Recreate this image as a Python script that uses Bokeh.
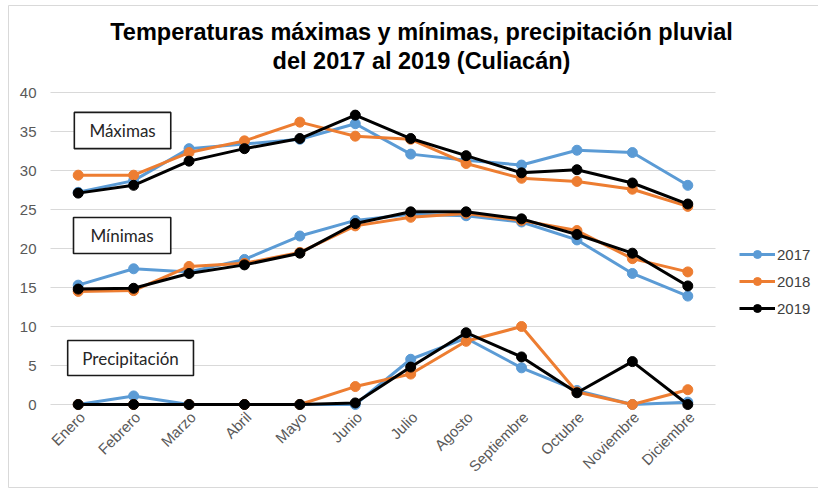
from bokeh.plotting import figure
from bokeh.models import Range1d, Label, BoxAnnotation, Legend, LegendItem
from bokeh.core.properties import value
from bokeh.embed import file_html
from bokeh.resources import INLINE
import math

meses = ["Enero", "Febrero", "Marzo", "Abril", "Mayo", "Junio", "Julio", "Agosto",
         "Septiembre", "Octubre", "Noviembre", "Diciembre"]
y_ticks = [0, 5, 10, 15, 20, 25, 30, 35, 40]
y_tick_labels = ["0", "5", "10", "15", "20", "25", "30", "35", "40"]
years = ["2017", "2018", "2019"]
colors = {"2017": "#5b9bd5", "2018": "#ed7d31", "2019": "#000000"}

max_2017 = [27.2, 28.7, 32.8, 33.4, 34.0, 36.0, 32.1, 31.3, 30.7, 32.6, 32.3, 28.1]
max_2018 = [29.4, 29.4, 32.3, 33.8, 36.2, 34.4, 34.0, 30.9, 29.0, 28.6, 27.6, 25.4]
max_2019 = [27.1, 28.1, 31.2, 32.8, 34.1, 37.1, 34.1, 31.9, 29.7, 30.1, 28.4, 25.7]

min_2017 = [15.3, 17.4, 17.0, 18.6, 21.6, 23.6, 24.4, 24.2, 23.4, 21.1, 16.8, 13.9]
min_2018 = [14.5, 14.6, 17.7, 18.1, 19.5, 22.9, 24.0, 24.5, 23.6, 22.3, 18.7, 17.0]
min_2019 = [14.8, 14.9, 16.8, 17.9, 19.4, 23.2, 24.7, 24.7, 23.8, 21.8, 19.4, 15.2]

pre_2017 = [0.0, 1.1, 0.0, 0.0, 0.0, 0.0, 5.8, 8.5, 4.7, 1.8, 0.0, 0.3]
pre_2018 = [0.0, 0.0, 0.0, 0.0, 0.0, 2.3, 3.9, 8.1, 10.0, 1.6, 0.0, 1.9]
pre_2019 = [0.0, 0.0, 0.0, 0.0, 0.0, 0.2, 4.8, 9.2, 6.1, 1.5, 5.5, 0.0]

series = {
    "2017": [max_2017, min_2017, pre_2017],
    "2018": [max_2018, min_2018, pre_2018],
    "2019": [max_2019, min_2019, pre_2019],
}

W, H = 818, 488
# plot area in pixels: x 50..715, y 92 (=40) .. 404 (=0)
px_x = 665 / len(meses)
px_y = 312 / 40
x_idx = list(range(len(meses)))
x0, x1 = -0.5, len(meses) - 0.5

p = figure(width=W, height=H,
           x_range=Range1d(x0 - 50 / px_x, x0 + (W - 50) / px_x),
           y_range=Range1d(-(H - 404) / px_y, 40 + 92 / px_y),
           output_backend="svg", toolbar_location=None,
           min_border=0)
p.xaxis.visible = False
p.yaxis.visible = False
p.xgrid.visible = False
p.ygrid.visible = False
p.outline_line_color = None
p.background_fill_color = "white"
p.border_fill_color = "white"

# outer light frame
p.add_layout(BoxAnnotation(left=x0 - 42 / px_x, right=x1 + 200 / px_x,
                           top=40 + 87 / px_y, bottom=-83 / px_y,
                           fill_alpha=0, line_color="#d9d9d9", line_alpha=1, line_width=1))

# gridlines
p.segment(x0=[x0] * len(y_ticks), x1=[x1] * len(y_ticks), y0=y_ticks, y1=y_ticks,
          line_color="#d9d9d9", line_width=1)

# y tick labels
p.text(x=[x0] * len(y_ticks), y=y_ticks, text=y_tick_labels, x_offset=-14,
       text_align="right", text_baseline="middle", text_font=value("Liberation Sans"),
       text_font_size=value("15px"), text_color="#595959")
# x tick labels
p.text(x=x_idx, y=[0] * len(meses), text=meses, x_offset=4, y_offset=10, angle=math.pi / 4,
       text_align="right", text_baseline="middle", text_font=value("Liberation Sans"),
       text_font_size=value("15px"), text_color="#595959")

renderers = {}
for yr in years:
    rs = []
    for vals in series[yr]:
        l = p.line(x_idx, vals, line_color=colors[yr], line_width=3)
        s = p.scatter(x_idx, vals, size=10, fill_color=colors[yr], line_color=colors[yr])
        rs += [l, s]
    renderers[yr] = rs

legend = Legend(items=[LegendItem(label=yr, renderers=renderers[yr][:2]) for yr in years],
                location=(739, 170), border_line_color=None, background_fill_alpha=0,
                label_text_font="Liberation Sans", label_text_font_size="15px",
                label_text_color="#404040", glyph_width=36, spacing=7, padding=0,
                label_standoff=2, margin=0)
p.add_layout(legend)

# annotation boxes
boxes = [("Máximas", -0.07, 1.67, 37.45, 32.8, 0.80, 35.1),
         ("Mínimas", -0.085, 1.67, 23.97, 19.36, 0.79, 21.67),
         ("Precipitación", -0.19, 2.08, 8.2, 3.72, 0.945, 5.96)]
for txt, l, r, t, b, cx, cy in boxes:
    p.add_layout(BoxAnnotation(left=l, right=r, top=t, bottom=b, fill_color="white",
                               fill_alpha=1, line_color="#1a1a1a", line_alpha=1,
                               line_width=1.6))
    p.add_layout(Label(x=cx, y=cy, text=txt, text_align="center", text_baseline="middle",
                       text_font="Lato", text_font_size="17px", text_color="#262626"))

# title (two lines)
title_lines = ["Temperaturas máximas y mínimas, precipitación pluvial",
               "del 2017 al 2019 (Culiacán)"]
title_y = [47.82, 44.10]
for t, ty in zip(title_lines, title_y):
    p.add_layout(Label(x=6.195, y=ty, text=t, text_align="center", text_baseline="middle",
                       text_font="Liberation Sans", text_font_style="bold",
                       text_font_size="23.5px", text_color="#000000"))

open("out.html", "w").write(file_html(p, INLINE))
